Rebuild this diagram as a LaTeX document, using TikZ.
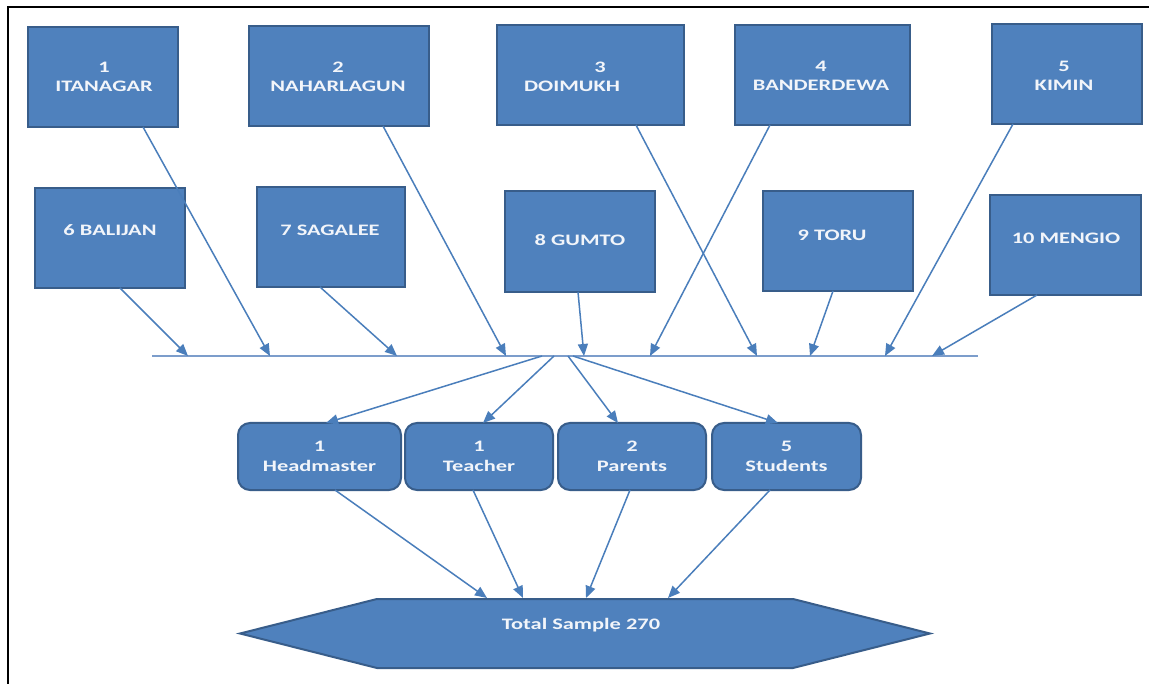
\documentclass[tikz,border=0pt]{standalone}
\usepackage{fontspec}
\usepackage{graphicx}
\setmainfont{Carlito}
\usetikzlibrary{arrows.meta,calc}
\definecolor{boxfill}{HTML}{4F81BD}
\definecolor{boxline}{HTML}{385D8A}
\definecolor{arrowc}{HTML}{4A7EBB}
\definecolor{hline}{HTML}{7C9DCB}
\definecolor{txtc}{HTML}{F2F5FA}
\newcommand\sx[1]{\scalebox{1.4}[1]{#1}}
\tikzset{
  sqbox/.style={draw=boxline,fill=boxfill,line width=2pt,inner sep=0pt,outer sep=0pt,
    minimum height=100pt},
  rbox/.style={draw=boxline,fill=boxfill,line width=2pt,inner sep=0pt,outer sep=0pt,
    rounded corners=12pt,minimum height=67pt,text=txtc,align=center,
    font=\bfseries\fontsize{16}{20}\selectfont},
  boxtext/.style={text=txtc,align=center,inner sep=0pt,font=\bfseries\fontsize{16}{19}\selectfont},
  conn/.style={draw=arrowc,line width=1.5pt,-{Triangle[length=12pt,width=10pt]}},
}
\begin{document}
\begin{tikzpicture}[x=1pt,y=-1pt]
\useasboundingbox (0,0) rectangle (1149,684);
\fill[white] (0,0) rectangle (1149,684);
% frame
\draw[line width=2.5pt,black] (8,684) -- (8,7) -- (1149,7);

% top row
\node[sqbox,minimum width=150pt] (b1) at (103,77) {};
\node[sqbox,minimum width=180pt] (b2) at (339,76) {};
\node[sqbox,minimum width=187pt] (b3) at (590.5,75) {};
\node[sqbox,minimum width=175pt] (b4) at (822.5,75) {};
\node[sqbox,minimum width=150pt] (b5) at (1067,74) {};
\node[boxtext] (t1) at (104,77) {\sx{1}\\\sx{ITANAGAR}};
\node[boxtext] (t2) at (338,77) {\sx{2}\\\sx{NAHARLAGUN}};
\node[boxtext] (t3) at (600,77) {\sx{3}\\\sx{DOIMUKH}\hspace*{56pt}};
\node[boxtext] (t4) at (821,76) {\sx{4}\\\sx{BANDERDEWA}};
\node[boxtext] (t5) at (1064,76) {\sx{5}\\\sx{KIMIN}};

% second row
\node[sqbox,minimum width=150pt] (b6) at (110,238) {};
\node[sqbox,minimum width=148pt] (b7) at (331,237) {};
\node[sqbox,minimum width=150pt,minimum height=101pt] (b8) at (580,241.5) {};
\node[sqbox,minimum width=150pt] (b9) at (838,241) {};
\node[sqbox,minimum width=151pt] (b10) at (1065.5,245) {};
\node[boxtext] (t6) at (110,230) {\sx{6 BALIJAN}};
\node[boxtext] (t7) at (330,230) {\sx{7 SAGALEE}};
\node[boxtext] (t8) at (580,240) {\sx{8 GUMTO}};
\node[boxtext] (t9) at (832,235) {\sx{9 TORU}};
\node[boxtext] (t10) at (1066,238) {\sx{10 MENGIO}};

% horizontal line
\coordinate (hl) at (152,356);
\coordinate (hr) at (978,356);
\draw[draw=hline,line width=1.3pt] (hl) -- (hr);

% end points on the line
\coordinate (e1) at (270,356);
\coordinate (e2) at (506,356);
\coordinate (e3) at (757,356);
\coordinate (e4) at (650,356);
\coordinate (e5) at (885,356);
\coordinate (e6) at (188,356);
\coordinate (e7) at (397,356);
\coordinate (e8) at (584,356);
\coordinate (e9) at (810,356);
\coordinate (e10) at (932,356);

\draw[conn] ([xshift=40pt]b1.south) -- (e1);
\draw[conn] ([xshift=44pt]b2.south) -- (e2);
\draw[conn] ([xshift=45.5pt]b3.south) -- (e3);
\draw[conn] ([xshift=-52.5pt]b4.south) -- (e4);
\draw[conn] ([xshift=-54pt]b5.south) -- (e5);
\draw[conn] ([xshift=10pt]b6.south) -- (e6);
\draw[conn] ([xshift=-11pt]b7.south) -- (e7);
\draw[conn] ([xshift=-2pt]b8.south) -- (e8);
\draw[conn] ([xshift=-5pt]b9.south) -- (e9);
\draw[conn] ([xshift=-28.5pt]b10.south) -- (e10);

% middle boxes
\node[rbox,minimum width=163pt] (m1) at (319.5,456.5) {\sx{1}\\\sx{Headmaster}};
\node[rbox,minimum width=148pt] (m2) at (479,456.5) {\sx{1}\\\sx{Teacher}};
\node[rbox,minimum width=148pt] (m3) at (632,456.5) {\sx{2}\\\sx{Parents}};
\node[rbox,minimum width=149pt] (m4) at (786.5,456.5) {\sx{5}\\\sx{Students}};

% hub arrows
\coordinate (s1) at (542,356);
\coordinate (s2) at (554,356);
\coordinate (s3) at (568,356);
\coordinate (s4) at (573,356);
\draw[conn] (s1) -- ([xshift=6.5pt]m1.north);
\draw[conn] (s2) -- ([xshift=4pt]m2.north);
\draw[conn] (s3) -- ([xshift=-14pt]m3.north);
\draw[conn] (s4) -- ([xshift=-8.5pt]m4.north);

% hexagon
\coordinate (hxl) at (240,633.5);
\coordinate (hxtl) at (377,599);
\coordinate (hxtr) at (793,599);
\coordinate (hxr) at (930,633.5);
\coordinate (hxbr) at (793,668);
\coordinate (hxbl) at (377,668);
\draw[draw=boxline,fill=boxfill,line width=2pt,line join=miter]
  (hxl) -- (hxtl) -- (hxtr) -- (hxr) -- (hxbr) -- (hxbl) -- cycle;
\node[boxtext] (total) at (581,625) {\sx{Total Sample 270}};

\coordinate (p1) at (487,598);
\coordinate (p2) at (523,598);
\coordinate (p3) at (586,598);
\coordinate (p4) at (668,598);
\draw[conn] ([xshift=15.5pt]m1.south) -- (p1);
\draw[conn] ([xshift=-6pt]m2.south) -- (p2);
\draw[conn] ([xshift=-2pt]m3.south) -- (p3);
\draw[conn] ([xshift=-16.5pt]m4.south) -- (p4);
\end{tikzpicture}
\end{document}
